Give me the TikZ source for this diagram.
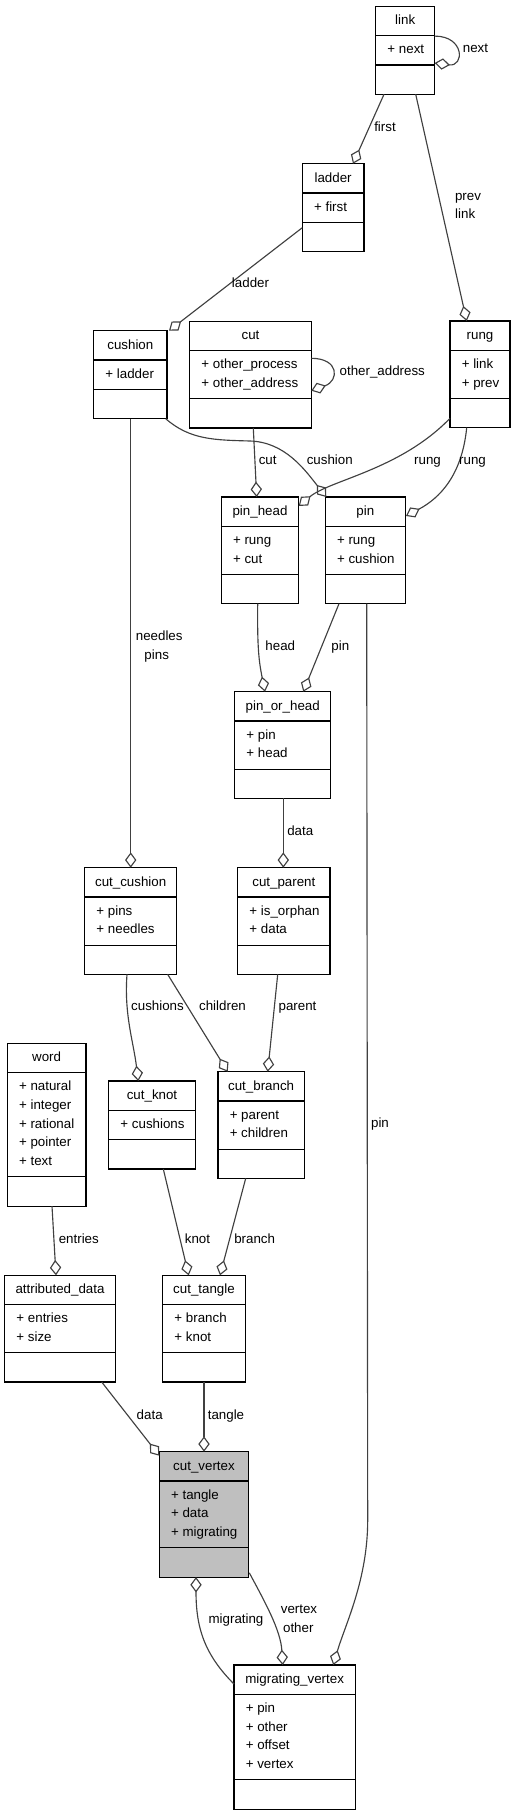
\documentclass[tikz,border=0pt]{standalone}
\usepackage{fontspec}
\setmainfont{Liberation Sans}
\usetikzlibrary{arrows.meta,calc}
\definecolor{edgecol}{HTML}{404040}
\definecolor{hilite}{HTML}{BFBFBF}
\tikzset{
 clsbox/.style={draw=black, line width=0.9pt, inner sep=0pt, outer sep=0pt, rectangle},
 clsline/.style={draw=black, line width=0.9pt},
 clstext/.style={font=\fontsize{10pt}{12pt}\selectfont, inner sep=0pt},
 lbl/.style={font=\fontsize{10pt}{12pt}\selectfont, inner sep=0pt, text height=7pt, text depth=2pt},
 agg/.style={draw=edgecol, line width=0.85pt, -{Diamond[open, length=11.5pt, width=8.5pt]}},
}
% [1] fill, 2 name, 3 x, 4 y, 5 x2, 6 rows, 7 title, 8 attrs
\newcommand{\umlclass}[8][white]{%
 \node[clsbox, fill=#1, minimum width={(#5-#3)*0.75pt}, minimum height={(88+(#6-1)*18.7)*0.75pt}, anchor=north west] (#2) at (#3,#4) {};
 \draw[clsline] ($(#2.north west)+(0,29.3)$) -- ($(#2.north east)+(0,29.3)$);
 \draw[clsline] ($(#2.south west)+(0,-29.3)$) -- ($(#2.south east)+(0,-29.3)$);
 \node[clstext, anchor=base] (#2-title) at ($(#2.north)+(0,18.5)$) {#7};
 \foreach \myattr [count=\myi] in {#8} {%
   \pgfmathsetmacro\myyy{47.3+(\myi-1)*18.7}%
   \node[clstext, anchor=base west] (#2-a\myi) at ($(#2.north west)+(11.5,\myyy)$) {\myattr};
 }%
}
\begin{document}
\begin{tikzpicture}[x=0.75pt,y=-0.75pt]
\fill[white] (0,0) rectangle (515,1816);
\useasboundingbox (0,0) rectangle (515,1816);

\umlclass{link}{375.7}{6.3}{434.7}{1}{link}{+ next}
\umlclass{ladder}{302.3}{163.7}{364}{1}{ladder}{+ first}
\umlclass{cushion}{93.7}{330.7}{167}{1}{cushion}{+ ladder}
\umlclass{cut}{189.7}{321.3}{311.3}{2}{cut}{+ other\_process,+ other\_address}
\umlclass{rung}{450}{321}{510}{2}{rung}{+ link,+ prev}
\umlclass{pinhead}{221.3}{497}{298.7}{2}{pin\_head}{+ rung,+ cut}
\umlclass{pin}{325.3}{497}{405.3}{2}{pin}{+ rung,+ cushion}
\umlclass{pinorhead}{234.7}{691.7}{330.7}{2}{pin\_or\_head}{+ pin,+ head}
\umlclass{cutcushion}{84.7}{867.7}{176.7}{2}{cut\_cushion}{+ pins,+ needles}
\umlclass{cutparent}{237.7}{867.7}{330}{2}{cut\_parent}{+ is\_orphan,+ data}
\umlclass{word}{7.3}{1043.3}{86}{5}{word}{+ natural,+ integer,+ rational,+ pointer,+ text}
\umlclass{cutknot}{108.7}{1081}{195.3}{1}{cut\_knot}{+ cushions}
\umlclass{cutbranch}{218}{1071.7}{304.3}{2}{cut\_branch}{+ parent,+ children}
\umlclass{attrdata}{4.7}{1275.3}{115.3}{2}{attributed\_data}{+ entries,+ size}
\umlclass{cuttangle}{162.7}{1275.3}{245.3}{2}{cut\_tangle}{+ branch,+ knot}
\umlclass[hilite]{cutvertex}{159.3}{1451.7}{248.7}{3}{cut\_vertex}{+ tangle,+ data,+ migrating}
\umlclass{migvertex}{234}{1665}{355.3}{4}{migrating\_vertex}{+ pin,+ other,+ offset,+ vertex}

% connectors
\draw[agg] ($(link.north east)+(0,29.8)$) .. controls +(30,0) and +(30,4) .. ($(link.north east)+(0,56.7)$);
\draw[agg] ($(link.south west)+(8.3,0)$) -- ($(ladder.north west)+(50.7,0)$);
\draw[agg] ($(link.south west)+(40,0)$) -- ($(rung.north west)+(16.7,0)$);
\draw[agg] ($(ladder.north west)+(0,64)$) -- ($(cushion.north east)+(2,0)$);
\draw[agg] ($(cut.north east)+(0,37)$) .. controls +(28,0) and +(28,-10) .. ($(cut.north east)+(0,69.4)$);
\draw[agg] ($(cut.south west)+(63.6,0)$) -- ($(pinhead.north west)+(35.4,0)$);
\draw[agg] ($(cushion.south east)+(-1.3,0)$) .. controls (190,440) and (215,440) .. (250,441) .. controls (285,442) and (305,470) .. ($(pin.north west)+(1,0)$);
\draw[agg] ($(rung.south west)+(0,-9.4)$) .. controls (400,470) and (330,480) .. ($(pinhead.north east)+(0,9)$);
\draw[agg] ($(rung.south west)+(16.7,0)$) .. controls (462,475) and (440,498) .. ($(pin.north east)+(0.7,19)$);
\draw[agg] ($(pinhead.south west)+(36.4,0)$) .. controls +(-0.5,45) and +(-6,-30) .. ($(pinorhead.north west)+(30.3,0)$);
\draw[agg] ($(pin.south west)+(13.7,0)$) -- ($(pinorhead.north west)+(68.6,0)$);
\draw[agg] ($(pin.south west)+(41.4,0)$) -- (367.7,1520) .. controls (367.7,1580) and (345,1625) .. ($(migvertex.north west)+(99.3,0)$);
\draw[agg] ($(cushion.south west)+(37,0)$) -- ($(cutcushion.north west)+(46,0)$);
\draw[agg] ($(pinorhead.south west)+(48.6,0)$) -- ($(cutparent.north west)+(45.6,0)$);
\draw[agg] ($(cutcushion.south west)+(42.3,0)$) .. controls +(-3,40) and +(-5,-40) .. ($(cutknot.north west)+(29.6,0)$);
\draw[agg] ($(cutcushion.south west)+(83,0)$) -- ($(cutbranch.north west)+(9.7,0)$);
\draw[agg] ($(cutparent.south west)+(40,0)$) -- ($(cutbranch.north west)+(49.7,0)$);
\draw[agg] ($(word.south west)+(44.7,0)$) -- ($(attrdata.north west)+(51.3,0)$);
\draw[agg] ($(cutknot.south west)+(54.6,0)$) -- ($(cuttangle.north west)+(26,0)$);
\draw[agg] ($(cutbranch.south west)+(27.7,0)$) -- ($(cuttangle.north west)+(57.3,0)$);
\draw[agg] ($(attrdata.south west)+(97,0)$) -- ($(cutvertex.north west)+(0,4)$);
\draw[agg] ($(cuttangle.south west)+(41.3,0)$) -- ($(cutvertex.north west)+(44.7,0)$);
\draw[agg] ($(migvertex.north west)+(0,19)$) .. controls +(-30,-30) and +(0,50) .. ($(cutvertex.south west)+(36.7,0)$);
\draw[agg] ($(cutvertex.south east)+(0.6,-4.3)$) .. controls +(15,28) and +(-2,-35) .. ($(migvertex.north west)+(48.7,0)$);

% labels
\node[lbl] (l1) at (475.5,49) {next};
\node[lbl] (l2) at (385,128) {first};
\node[lbl] (l3a) at (468,196.7) {prev};
\node[lbl] (l3b) at (465.2,215.3) {link};
\node[lbl] (l4) at (250.5,284.3) {ladder};
\node[lbl] (l5) at (382.3,372.3) {other\_address};
\node[lbl] (l6) at (267.7,461) {cut};
\node[lbl] (l7) at (329.8,461) {cushion};
\node[lbl] (l8) at (427.5,461) {rung};
\node[lbl] (l9) at (472.5,461) {rung};
\node[lbl] (l10a) at (159.2,636.7) {needles};
\node[lbl] (l10b) at (156.7,655.7) {pins};
\node[lbl] (l11) at (280.3,646.7) {head};
\node[lbl] (l12) at (340.3,646.7) {pin};
\node[lbl] (l13) at (300.3,831.7) {data};
\node[lbl] (l14) at (157.5,1007.3) {cushions};
\node[lbl] (l15) at (222.5,1007.3) {children};
\node[lbl] (l16) at (297.5,1007.3) {parent};
\node[lbl] (l17) at (380,1124) {pin};
\node[lbl] (l18) at (78.8,1239.7) {entries};
\node[lbl] (l19) at (197.5,1239.7) {knot};
\node[lbl] (l20) at (254.7,1239.7) {branch};
\node[lbl] (l21) at (149.7,1415.7) {data};
\node[lbl] (l22) at (226,1415.7) {tangle};
\node[lbl] (l23) at (236,1619.7) {migrating};
\node[lbl] (l24a) at (299,1610.3) {vertex};
\node[lbl] (l24b) at (298.3,1628.7) {other};
\end{tikzpicture}
\end{document}
